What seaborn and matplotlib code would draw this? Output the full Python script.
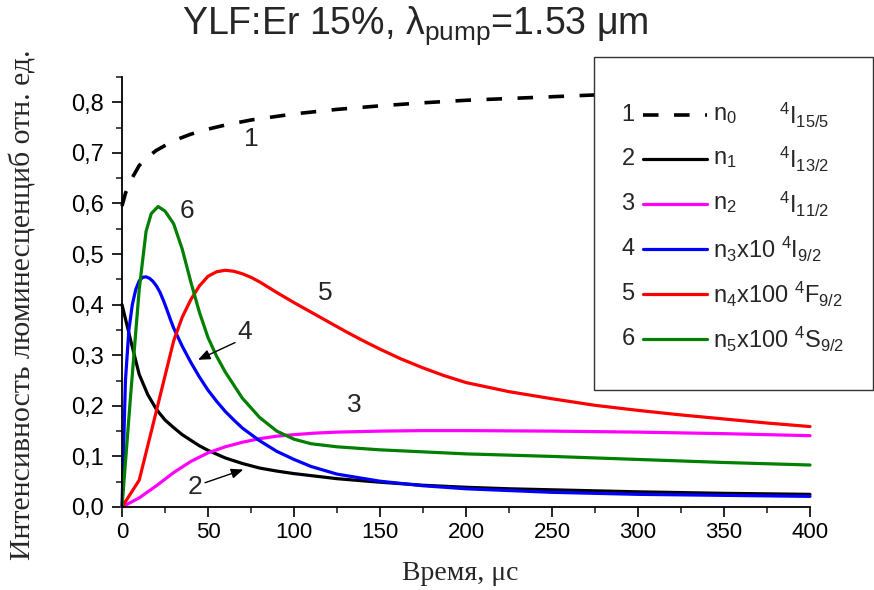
import numpy as np
import pandas as pd
import matplotlib
matplotlib.use("Agg")
import matplotlib.pyplot as plt
from matplotlib.lines import Line2D
from matplotlib.patches import Rectangle
from matplotlib.ticker import MultipleLocator, FuncFormatter
import seaborn as sns

# ---------------- data ----------------
t_n0 = [0, 2, 5, 10, 15, 20, 30, 40, 50, 60, 75, 100, 125, 150, 175, 200, 250, 300, 350, 400]
n0 = [0.595, 0.62, 0.645, 0.675, 0.692, 0.705, 0.724, 0.737, 0.747, 0.755, 0.765, 0.777,
      0.786, 0.793, 0.799, 0.804, 0.811, 0.818, 0.824, 0.829]

t_n1 = [0, 5, 10, 15, 20, 25, 30, 35, 40, 45, 50, 60, 70, 80, 90, 100, 110, 125, 150,
        175, 200, 225, 250, 275, 300, 350, 400]
n1 = [0.40, 0.33, 0.262, 0.222, 0.193, 0.172, 0.157, 0.143, 0.132, 0.121, 0.112, 0.097,
      0.086, 0.077, 0.071, 0.066, 0.062, 0.056, 0.049, 0.043, 0.039, 0.036, 0.034,
      0.032, 0.030, 0.027, 0.025]

t_n2 = [0, 10, 20, 30, 40, 50, 60, 70, 80, 90, 100, 112, 125, 150, 175, 200, 250, 300, 350, 400]
n2 = [0.0, 0.018, 0.042, 0.068, 0.09, 0.107, 0.119, 0.128, 0.135, 0.14, 0.143, 0.146,
      0.148, 0.150, 0.151, 0.151, 0.150, 0.148, 0.145, 0.141]

t_n3 = [0, 2, 4, 6, 8, 10, 12, 14, 16, 18, 20, 22, 24, 26, 28, 30, 35, 40, 45, 50, 55,
        60, 65, 70, 80, 90, 100, 110, 125, 150, 175, 200, 250, 300, 350, 400]
n3 = [0.0, 0.25, 0.35, 0.40, 0.43, 0.447, 0.454, 0.455, 0.452, 0.446, 0.437, 0.425,
      0.409, 0.391, 0.372, 0.354, 0.318, 0.286, 0.257, 0.231, 0.209, 0.189, 0.172,
      0.156, 0.131, 0.11, 0.094, 0.08, 0.065, 0.051, 0.042, 0.036, 0.029, 0.025,
      0.023, 0.021]

t_n4 = [0, 10, 20, 30, 35, 40, 45, 50, 55, 60, 65, 70, 75, 80, 90, 100, 110, 120, 130,
        140, 150, 162, 175, 187, 200, 225, 250, 275, 300, 325, 350, 375, 400]
n4 = [0.0, 0.053, 0.19, 0.328, 0.375, 0.41, 0.437, 0.456, 0.465, 0.468, 0.466, 0.461,
      0.454, 0.445, 0.424, 0.404, 0.385, 0.366, 0.347, 0.329, 0.312, 0.293, 0.275,
      0.26, 0.246, 0.228, 0.214, 0.201, 0.191, 0.182, 0.174, 0.166, 0.159]

t_n5 = [0, 5, 10, 14, 17, 21, 25, 30, 35, 40, 45, 50, 55, 60, 70, 80, 90, 100, 110,
        125, 150, 175, 200, 250, 300, 350, 400]
n5 = [0.0, 0.22, 0.43, 0.545, 0.58, 0.594, 0.585, 0.56, 0.51, 0.445, 0.385, 0.335,
      0.298, 0.267, 0.215, 0.177, 0.15, 0.134, 0.125, 0.119, 0.113, 0.109, 0.105,
      0.1, 0.094, 0.088, 0.083]

series_ids = ["1", "2", "3", "4", "5", "6"]
series_names = [r"n$_0$", r"n$_1$", r"n$_2$", r"n$_3$x10 ${}^{4}$I$_{9/2}$",
                r"n$_4$x100 ${}^{4}$F$_{9/2}$", r"n$_5$x100 ${}^{4}$S$_{9/2}$"]
series_terms = [r"${}^{4}$I$_{15/5}$", r"${}^{4}$I$_{13/2}$", r"${}^{4}$I$_{11/2}$", "", "", ""]
colors = ["#000000", "#000000", "#ff00ff", "#0000ff", "#ff0000", "#008000"]

title = r"YLF:Er 15%, λ$_{\mathrm{pump}}$=1.53 μm"
xlabel = "Время, μс"
ylabel = "Интенсивность люминесценциб отн. ед."

# ---------------- style ----------------
sns.set_theme(style="ticks")
plt.rcParams["font.family"] = ["Liberation Sans", "DejaVu Sans"]
plt.rcParams["mathtext.fontset"] = "custom"
plt.rcParams["mathtext.rm"] = "Liberation Sans"
plt.rcParams["mathtext.it"] = "Liberation Sans:italic"
plt.rcParams["mathtext.bf"] = "Liberation Sans:bold"

W, H = 874, 590
fig = plt.figure(figsize=(W / 100, H / 100), dpi=100)
ax = fig.add_axes([122 / W, 1 - 507 / H, (810 - 122) / W, (507 - 77) / H])

xs = [t_n0, t_n1, t_n2, t_n3, t_n4, t_n5]
ys = [n0, n1, n2, n3, n4, n5]
LW = 2.3
for i, (x, y) in enumerate(zip(xs, ys)):
    df = pd.DataFrame({"t": x, "v": y})
    kw = dict(color=colors[i], lw=LW if i else 2.6, ax=ax, clip_on=False)
    line = sns.lineplot(data=df, x="t", y="v", **kw).lines[-1]
    line.set_solid_joinstyle("round")
    if i == 0:
        line.set_dashes((4.3, 4.3))
        line.set_dash_capstyle("butt")

ax.set_xlim(0, 400)
ax.set_ylim(0, 0.85)
ax.xaxis.set_major_locator(MultipleLocator(50))
ax.xaxis.set_minor_locator(MultipleLocator(25))
ax.yaxis.set_major_locator(MultipleLocator(0.1))
ax.yaxis.set_minor_locator(MultipleLocator(0.05))
ax.yaxis.set_major_formatter(FuncFormatter(lambda v, p: f"{v:.1f}".replace(".", ",")))
ax.tick_params(axis="both", which="major", direction="out", length=7, width=1.2,
               colors="black")
ax.tick_params(axis="x", which="major", labelsize=16, pad=4)
ax.tick_params(axis="y", which="major", labelsize=17, pad=6)
ax.tick_params(axis="both", which="minor", direction="out", length=4, width=1.2)
for s in ["top", "right"]:
    ax.spines[s].set_visible(False)
for s in ["left", "bottom"]:
    ax.spines[s].set_linewidth(1.3)
    ax.spines[s].set_color("black")
ax.set_xlabel("")
ax.set_ylabel("")

fig.text(460 / W, 1 - 574 / H, xlabel, family="Liberation Serif", fontsize=20,
         ha="center", va="center")
fig.text(23 / W, 1 - 305 / H, ylabel, family="Liberation Serif", fontsize=21.5,
         ha="center", va="center", rotation=90)
fig.text(415 / W, 1 - 26 / H, title, fontsize=27, ha="center", va="center")

# annotations
ann_fs = 19
ax.text(75.4, 0.728, "1", fontsize=ann_fs, ha="center", va="center")
ax.text(37.6, 0.585, "6", fontsize=ann_fs, ha="center", va="center")
ax.text(118, 0.423, "5", fontsize=ann_fs, ha="center", va="center")
ax.text(71.5, 0.345, "4", fontsize=ann_fs, ha="center", va="center")
ax.text(135, 0.202, "3", fontsize=ann_fs, ha="center", va="center")
ax.text(42.4, 0.040, "2", fontsize=ann_fs, ha="center", va="center")
ap = dict(arrowstyle="-|>,head_length=0.6,head_width=0.25", color="black", lw=1.0,
          shrinkA=0, shrinkB=0)
ax.annotate("", xy=(44.2, 0.291), xytext=(65.7, 0.325), arrowprops=ap)
ax.annotate("", xy=(70.5, 0.074), xytext=(48.3, 0.048), arrowprops=ap)

# legend box (figure pixel coordinates)
def fx(px):
    return px / W

def fy(py):
    return 1 - py / H

rect = Rectangle((fx(594), fy(390)), fx(873) - fx(594), fy(57) - fy(390),
                 transform=fig.transFigure, facecolor="white", edgecolor="#333333",
                 lw=1.0, zorder=10)
fig.add_artist(rect)
row_y = [115, 159, 204, 249, 294, 339]
LEG_FS = 17
for i in range(6):
    yy = fy(row_y[i])
    fig.text(fx(628), yy, series_ids[i], fontsize=LEG_FS, ha="center", va="center", zorder=11)
    ln = Line2D([fx(643), fx(707)], [yy, yy], transform=fig.transFigure,
                color=colors[i], lw=LW if i else 2.6, zorder=11)
    if i == 0:
        ln.set_dashes((4.3, 4.3))
        ln.set_dash_capstyle("butt")
    fig.add_artist(ln)
    fig.text(fx(713), yy, series_names[i], fontsize=LEG_FS, ha="left", va="center", zorder=11)
    if series_terms[i]:
        fig.text(fx(779), yy, series_terms[i], fontsize=LEG_FS, ha="left", va="center", zorder=11)

fig.savefig("out.png", dpi=100)
